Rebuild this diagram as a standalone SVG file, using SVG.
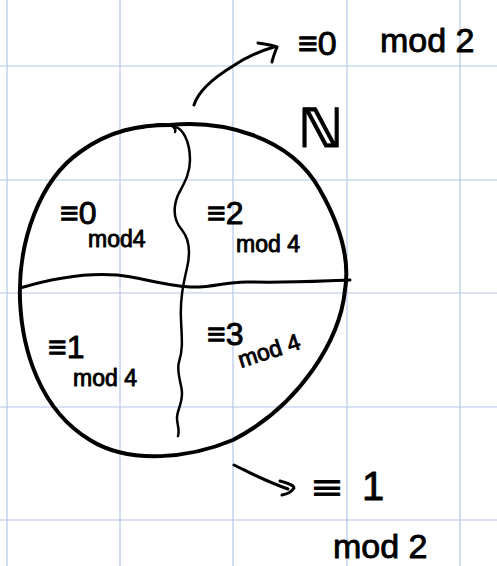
<svg xmlns="http://www.w3.org/2000/svg" width="497" height="566" viewBox="0 0 497 566">
<style>
.grid{stroke:#b4c6e6;stroke-width:1.2}
.ink{fill:none;stroke:#000;stroke-linecap:round;stroke-linejoin:round}
.t{font-family:"Liberation Sans","DejaVu Sans",sans-serif;fill:#000;stroke:#000;stroke-width:0.9;stroke-linejoin:round}
</style>
<rect width="497" height="566" fill="#fff"/>
<g id="grid">
<line class="grid" x1="7" y1="0" x2="7" y2="566"/>
<line class="grid" x1="120" y1="0" x2="120" y2="566"/>
<line class="grid" x1="233" y1="0" x2="233" y2="566"/>
<line class="grid" x1="347" y1="0" x2="347" y2="566"/>
<line class="grid" x1="460" y1="0" x2="460" y2="566"/>
<line class="grid" x1="0" y1="66" x2="497" y2="66"/>
<line class="grid" x1="0" y1="180" x2="497" y2="180"/>
<line class="grid" x1="0" y1="293" x2="497" y2="293"/>
<line class="grid" x1="0" y1="407" x2="497" y2="407"/>
<line class="grid" x1="0" y1="520" x2="497" y2="520"/>
</g>
<g id="set">
<path class="ink" stroke-width="4" d="M170,125 C220,120 290,135 320,190 C340,225 350,260 345,290 C340,340 300,405 233,440 C190,458 130,465 90,440 C40,410 22,350 20,300 C18,240 40,180 80,152 C110,130 140,125 170,125"/>
<path class="ink" stroke-width="2.5" d="M140,128 C150,126 165,122 172,126 C175,128 176,130 175,132"/>
<path class="ink" stroke-width="3" d="M20,288 C40,282 80,272 117,275 C140,277 160,285 190,287 C215,288 225,281 250,282 C290,283 320,281 350,280"/>
<path class="ink" stroke-width="2.5" d="M175,127 C182,128 190,140 190,160 C190,175 183,185 178,195 C172,210 175,222 182,230 C190,240 190,255 187,268 C183,285 180,300 181,320 C182,340 183,350 179,362 C176,372 182,385 182,393 C182,405 177,410 177,418 C177,425 180,430 178,436"/>
</g>
<g id="labels">
<text class="t" x="60" y="224" font-size="32">≡0</text>
<text class="t" x="88" y="247" font-size="23">mod4</text>
<text class="t" x="207" y="224" font-size="32">≡2</text>
<text class="t" x="236" y="252" font-size="23">mod 4</text>
<text class="t" x="48" y="358" font-size="32">≡1</text>
<text class="t" x="73" y="386" font-size="23">mod 4</text>
<text class="t" x="207" y="345" font-size="32">≡3</text>
<text class="t" x="241" y="368" font-size="23" transform="rotate(-18 241 368)">mod 4</text>
<text class="t" x="298" y="147" font-size="54" font-family="DejaVu Sans" font-weight="bold">ℕ</text>
</g>
<g id="connectors">
<path class="ink" stroke-width="3" d="M194,105 C198,92 210,80 233,66 C245,58 260,51 274,47"/>
<path class="ink" stroke-width="3" d="M258,43 C265,44 272,45 277,47 C275,52 273,57 272,62"/>
<path class="ink" stroke-width="3" d="M234,465 C245,470 262,480 288,489"/>
<path class="ink" stroke-width="3" d="M280,481 C288,483 294,486 294,488 C292,491 288,494 282,495"/>
</g>
<g id="outer-labels">
<text class="t" x="298" y="55" font-size="34">≡0</text>
<text class="t" x="380" y="52" font-size="34">mod 2</text>
<text class="t" x="312" y="500" font-size="36" textLength="30" lengthAdjust="spacingAndGlyphs">≡</text>
<text class="t" x="362" y="500" font-size="40">1</text>
<text class="t" x="333" y="558" font-size="34">mod 2</text>
</g>
</svg>
